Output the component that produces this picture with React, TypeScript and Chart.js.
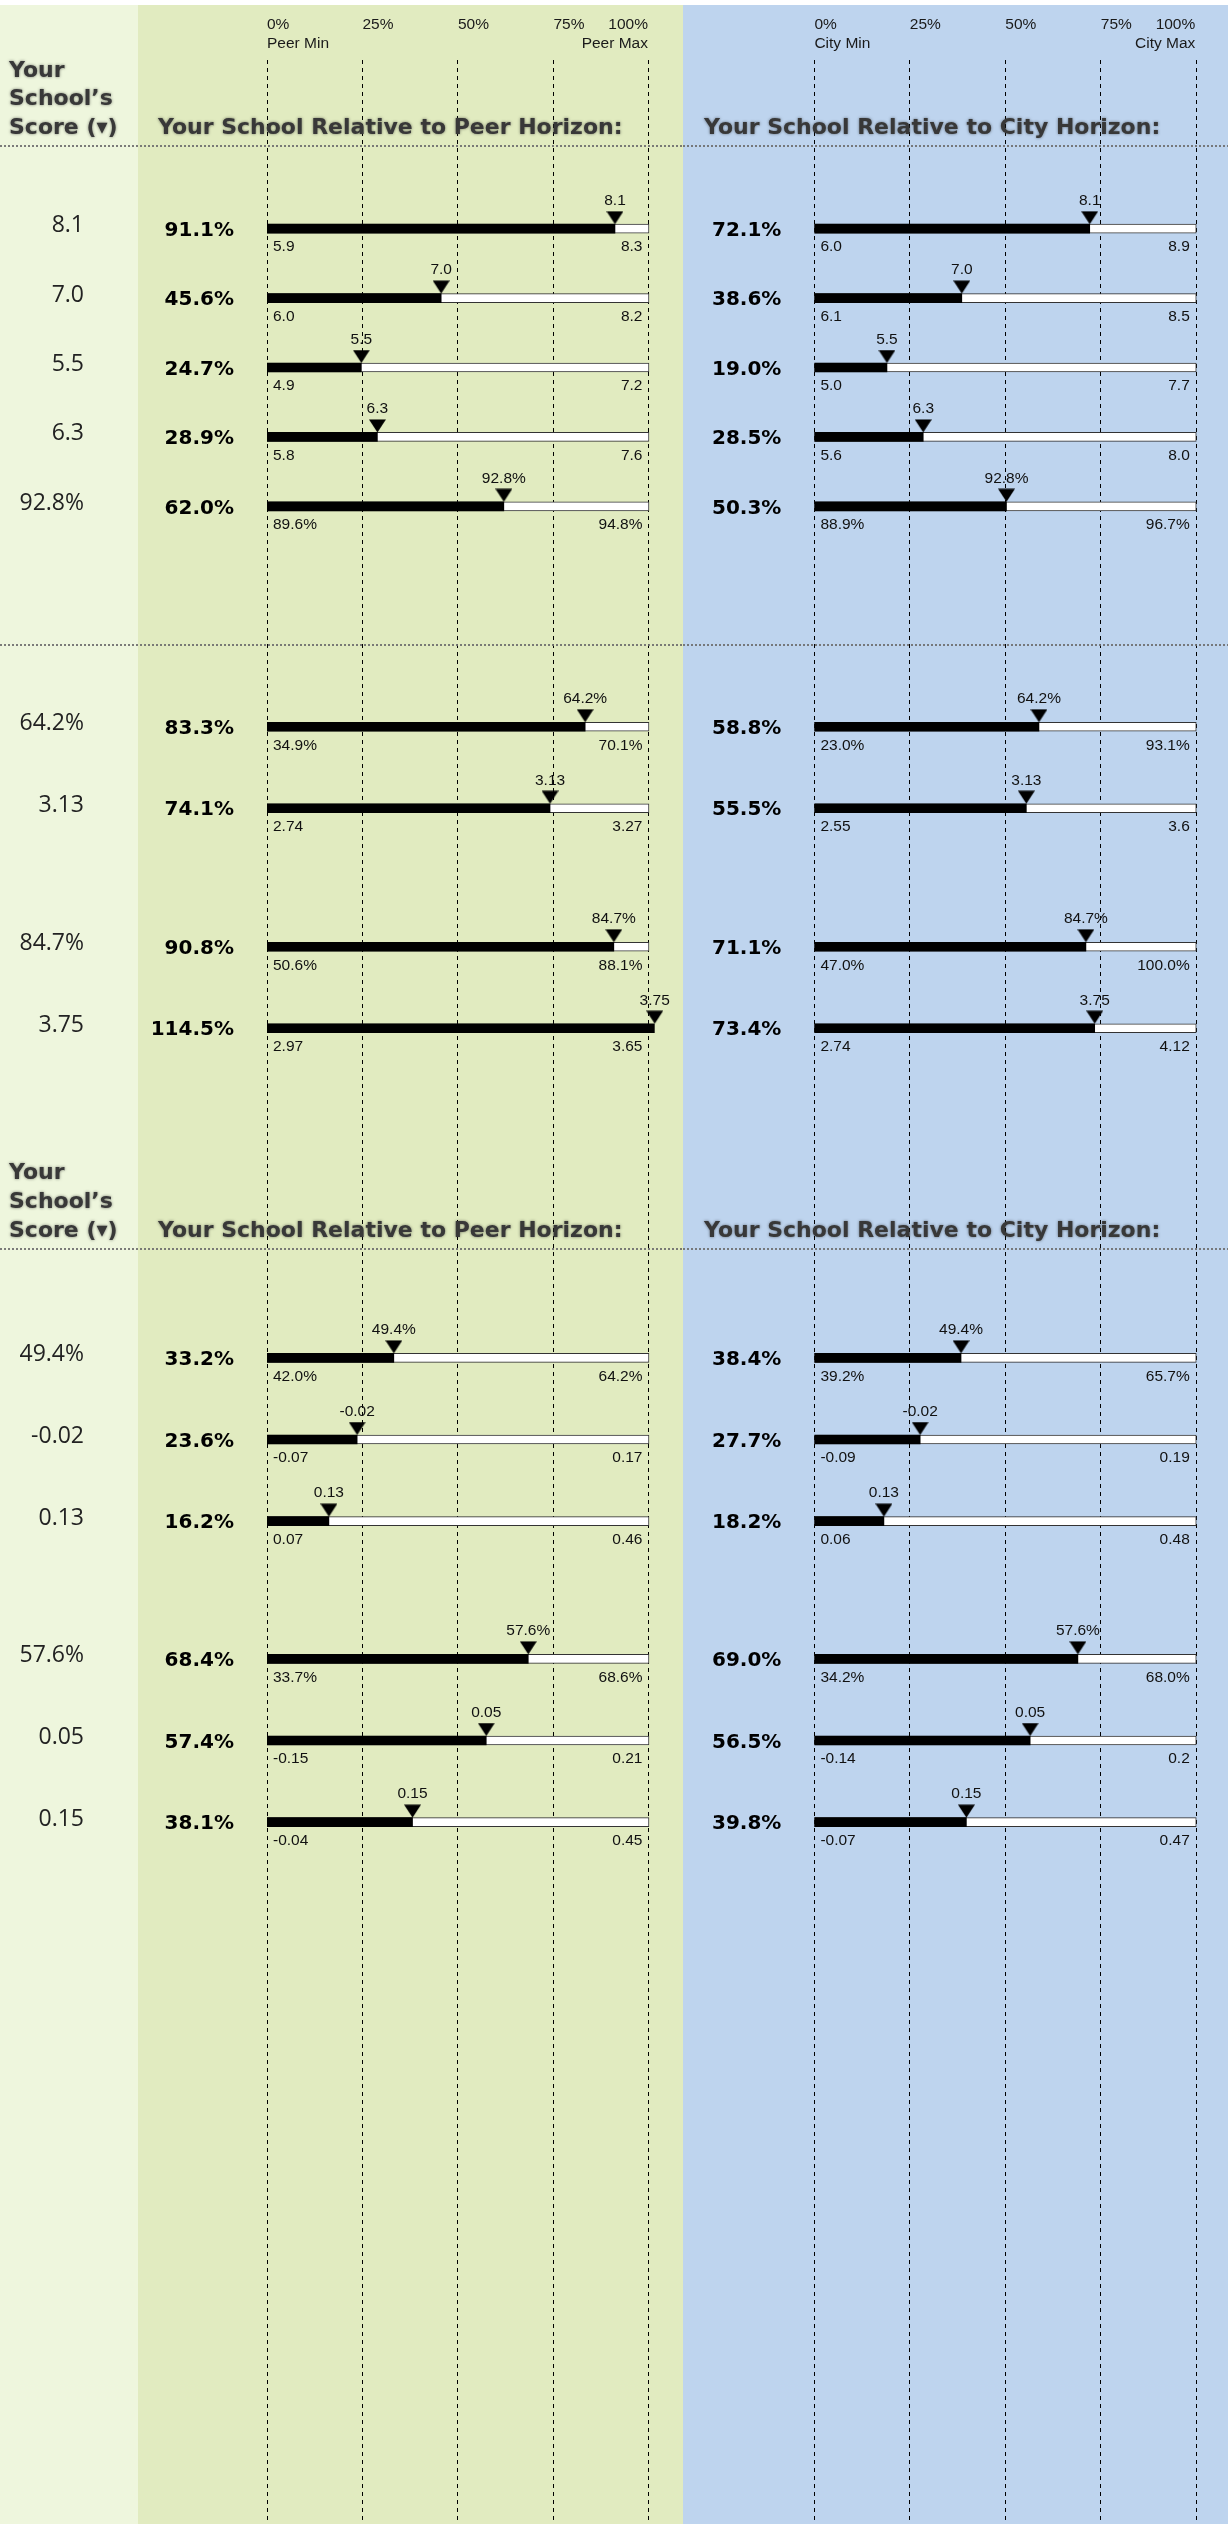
import React, { useEffect, useRef } from 'react';
import { Chart, registerables } from 'chart.js';

Chart.register(...registerables);

// ---------------- data ----------------
const SCORES = ['8.1', '7.0', '5.5', '6.3', '92.8%', '64.2%', '3.13', '84.7%', '3.75', '49.4%', '-0.02', '0.13', '57.6%', '0.05', '0.15'];
const PEER_PCT = [91.1, 45.6, 24.7, 28.9, 62.0, 83.3, 74.1, 90.8, 114.5, 33.2, 23.6, 16.2, 68.4, 57.4, 38.1];
const PEER_MIN = ['5.9', '6.0', '4.9', '5.8', '89.6%', '34.9%', '2.74', '50.6%', '2.97', '42.0%', '-0.07', '0.07', '33.7%', '-0.15', '-0.04'];
const PEER_MAX = ['8.3', '8.2', '7.2', '7.6', '94.8%', '70.1%', '3.27', '88.1%', '3.65', '64.2%', '0.17', '0.46', '68.6%', '0.21', '0.45'];
const CITY_PCT = [72.1, 38.6, 19.0, 28.5, 50.3, 58.8, 55.5, 71.1, 73.4, 38.4, 27.7, 18.2, 69.0, 56.5, 39.8];
const CITY_MIN = ['6.0', '6.1', '5.0', '5.6', '88.9%', '23.0%', '2.55', '47.0%', '2.74', '39.2%', '-0.09', '0.06', '34.2%', '-0.14', '-0.07'];
const CITY_MAX = ['8.9', '8.5', '7.7', '8.0', '96.7%', '93.1%', '3.6', '100.0%', '4.12', '65.7%', '0.19', '0.48', '68.0%', '0.2', '0.47'];
const RANGE_FULL = 100; // min..max span, in percent of the horizon
const AXIS_TICKS = [0, 25, 50, 75, 100];
const AXIS_TICK_LABELS = ['0%', '25%', '50%', '75%', '100%'];
const GROUP_SIZES = [5, 2, 2, 3, 3];
const AXIS_MAX = 101.5;

// ---------------- layout ----------------
const PAGE_W = 1228;
const PAGE_H = 2524;
const LEFT_COL_W = 138;
const SPLIT_X = 683;
const BG_TOP = 5;
const GRID_TOP = 60;
const GROUP_BOXES = [
  { top: 193.6, rowH: 69.35 },
  { top: 686.25, rowH: 81.5 },
  { top: 905.75, rowH: 81.5 },
  { top: 1316.75, rowH: 81.5 },
  { top: 1617.75, rowH: 81.5 },
];
const GROUP_PAD = 34;
const SEPARATORS_Y = [146, 645, 1249];
const HEADER_BLOCKS = [
  { lines: [71, 99.5, 128], title: 128 },
  { lines: [1173, 1202, 1231], title: 1231 },
];

const PANELS = [
  {
    key: 'peer', left: 0, width: SPLIT_X, padL: 267, padR: 28.3,
    pct: PEER_PCT, min: PEER_MIN, max: PEER_MAX,
    title: 'Your School Relative to Peer Horizon:', titleX: 158,
    minName: 'Peer Min', maxName: 'Peer Max', showScore: true,
  },
  {
    key: 'city', left: SPLIT_X, width: PAGE_W - SPLIT_X, padL: 131.4, padR: 26,
    pct: CITY_PCT, min: CITY_MIN, max: CITY_MAX,
    title: 'Your School Relative to City Horizon:', titleX: 21,
    minName: 'City Min', maxName: 'City Max', showScore: false,
  },
];

const SMALL_FONT = '15.5px "Liberation Sans", Arial, sans-serif';
const BOLD_PCT_FONT = 'bold 20px "DejaVu Sans", Verdana, sans-serif';
const SCORE_FONT = '23px "Open Sans", "Noto Sans", sans-serif';
const HEAD_FONT = 'bold 22px "DejaVu Sans", Verdana, sans-serif';

function makeTriangle(): HTMLCanvasElement {
  const c = document.createElement('canvas');
  c.width = 17;
  c.height = 36;
  const g = c.getContext('2d')!;
  g.fillStyle = '#000';
  g.beginPath();
  g.moveTo(0, 0.5);
  g.lineTo(17, 0.5);
  g.lineTo(8.5, 13.5);
  g.closePath();
  g.fill();
  return c;
}

function drawHeadText(ctx: CanvasRenderingContext2D, text: string, x: number, y: number) {
  ctx.save();
  ctx.font = HEAD_FONT;
  ctx.fillStyle = '#383838';
  ctx.textAlign = 'left';
  ctx.textBaseline = 'middle';
  ctx.shadowColor = 'rgba(0,0,0,0.5)';
  ctx.shadowBlur = 3;
  ctx.fillText(text, x, y);
  ctx.restore();
}

export default function App() {
  const bgRefs = useRef<(HTMLCanvasElement | null)[]>([]);
  const grpRefs = useRef<(HTMLCanvasElement | null)[]>([]);

  useEffect(() => {
    const charts: Chart[] = [];
    const tri = makeTriangle();

    PANELS.forEach((p, pi) => {
      // background / axis chart for the panel
      const bgCanvas = bgRefs.current[pi];
      if (bgCanvas) {
        const bgPlugin = {
          id: 'bgtext' + p.key,
          afterDraw(chart: any) {
            const ctx = chart.ctx as CanvasRenderingContext2D;
            const xs = chart.scales.x;
            ctx.save();
            // separators
            ctx.strokeStyle = 'rgba(110,110,110,0.9)';
            ctx.lineWidth = 2;
            ctx.setLineDash([2, 2]);
            SEPARATORS_Y.forEach((y) => {
              ctx.beginPath();
              ctx.moveTo(0, y);
              ctx.lineTo(chart.width, y);
              ctx.stroke();
            });
            ctx.setLineDash([]);
            // axis labels at the top
            ctx.font = SMALL_FONT;
            ctx.fillStyle = '#1a1a1a';
            ctx.textBaseline = 'middle';
            AXIS_TICKS.forEach((t, i) => {
              const x = xs.getPixelForValue(t);
              const last = i === AXIS_TICKS.length - 1;
              ctx.textAlign = last ? 'right' : 'left';
              ctx.fillText(AXIS_TICK_LABELS[i], last ? x - 1 : x, 25);
            });
            ctx.textAlign = 'left';
            ctx.fillText(p.minName, xs.getPixelForValue(0), 44);
            ctx.textAlign = 'right';
            ctx.fillText(p.maxName, xs.getPixelForValue(100) - 1, 44);
            ctx.restore();
            // headers
            HEADER_BLOCKS.forEach((hb) => {
              if (p.showScore) {
                drawHeadText(ctx, 'Your', 9, hb.lines[0]);
                drawHeadText(ctx, 'School\u2019s', 9, hb.lines[1]);
                drawHeadText(ctx, 'Score (\u25BE)', 9, hb.lines[2]);
              }
              drawHeadText(ctx, p.title, p.titleX, hb.title);
            });
          },
        };
        charts.push(
          new Chart(bgCanvas, {
            type: 'scatter',
            data: { datasets: [{ data: [] }] },
            options: {
              responsive: false,
              animation: false,
              devicePixelRatio: 1,
              layout: { padding: { left: p.padL, right: p.padR, top: GRID_TOP, bottom: 0 } },
              plugins: { legend: { display: false }, tooltip: { enabled: false } },
              scales: {
                x: {
                  type: 'linear',
                  position: 'top',
                  min: 0,
                  max: AXIS_MAX,
                  afterBuildTicks: (s: any) => {
                    s.ticks = AXIS_TICKS.map((v) => ({ value: v }));
                  },
                  ticks: { display: false },
                  grid: { color: '#000', lineWidth: 1, drawTicks: false },
                  border: { display: false, dash: [4, 4] },
                },
                y: { display: false },
              },
            },
            plugins: [bgPlugin],
          } as any)
        );
      }

      // bullet groups
      let start = 0;
      GROUP_SIZES.forEach((n, gi) => {
        const rows = Array.from({ length: n }, (_, k) => start + k);
        start += n;
        const canvas = grpRefs.current[pi * GROUP_SIZES.length + gi];
        if (!canvas) return;
        const labels = rows.map((r) => 'row' + r);
        const textPlugin = {
          id: 'rowtext' + p.key + gi,
          afterDatasetsDraw(chart: any) {
            const ctx = chart.ctx as CanvasRenderingContext2D;
            const xs = chart.scales.x;
            const ys = chart.scales.y;
            ctx.save();
            rows.forEach((r, i) => {
              const yc = ys.getPixelForValue(i);
              const xv = xs.getPixelForValue(Math.min(p.pct[r], AXIS_MAX));
              ctx.fillStyle = '#111';
              ctx.textBaseline = 'middle';
              ctx.font = SMALL_FONT;
              ctx.textAlign = 'center';
              ctx.fillText(SCORES[r], xv, yc - 28);
              ctx.textAlign = 'left';
              ctx.fillText(p.min[r], xs.getPixelForValue(0) + 6, yc + 18.5);
              ctx.textAlign = 'right';
              ctx.fillText(p.max[r], xs.getPixelForValue(100) - 6.5, yc + 18.5);
              ctx.fillStyle = '#000';
              ctx.font = BOLD_PCT_FONT;
              ctx.textAlign = 'right';
              ctx.fillText(p.pct[r].toFixed(1) + '%', xs.getPixelForValue(0) - 33, yc + 2);
              if (p.showScore) {
                ctx.fillStyle = '#222';
                ctx.font = SCORE_FONT;
                ctx.textAlign = 'right';
                ctx.fillText(SCORES[r], 84, yc - 3);
              }
            });
            ctx.restore();
          },
        };
        charts.push(
          new Chart(canvas, {
            type: 'bar',
            data: {
              labels,
              datasets: [
                {
                  type: 'scatter',
                  label: 'marker',
                  data: rows.map((r, i) => ({ x: Math.min(p.pct[r], AXIS_MAX), y: labels[i] })),
                  pointStyle: tri,
                  order: 0,
                  clip: false,
                },
                {
                  label: 'value',
                  data: rows.map((r) => p.pct[r]),
                  backgroundColor: '#000',
                  borderWidth: 0,
                  barThickness: 9,
                  grouped: false,
                  order: 1,
                  clip: 0,
                },
                {
                  label: 'range',
                  data: rows.map(() => RANGE_FULL),
                  backgroundColor: '#fff',
                  borderColor: '#333',
                  borderWidth: 1,
                  borderSkipped: false,
                  barThickness: 9,
                  grouped: false,
                  order: 2,
                  clip: 0,
                },
              ],
            },
            options: {
              indexAxis: 'y',
              responsive: false,
              animation: false,
              devicePixelRatio: 1,
              layout: { padding: { left: p.padL, right: p.padR, top: GROUP_PAD, bottom: GROUP_PAD } },
              plugins: { legend: { display: false }, tooltip: { enabled: false } },
              scales: {
                x: { type: 'linear', min: 0, max: AXIS_MAX, display: false },
                y: { type: 'category', display: false, offset: true },
              },
            },
            plugins: [textPlugin],
          } as any)
        );
      });
    });

    return () => {
      charts.forEach((c) => c.destroy());
    };
  }, []);

  return (
    <div
      style={{
        position: 'absolute',
        left: 0,
        top: 0,
        width: PAGE_W,
        height: PAGE_H,
        overflow: 'hidden',
        background: '#fff',
      }}
    >
      <div style={{ position: 'absolute', left: 0, top: BG_TOP, width: LEFT_COL_W, height: PAGE_H - BG_TOP, background: '#eef6dd' }} />
      <div style={{ position: 'absolute', left: LEFT_COL_W, top: BG_TOP, width: SPLIT_X - LEFT_COL_W, height: PAGE_H - BG_TOP, background: '#e1ebc0' }} />
      <div style={{ position: 'absolute', left: SPLIT_X, top: BG_TOP, width: PAGE_W - SPLIT_X, height: PAGE_H - BG_TOP, background: '#bed4ee' }} />
      {PANELS.map((p, pi) => (
        <canvas
          key={'bg' + p.key}
          ref={(el) => {
            bgRefs.current[pi] = el;
          }}
          width={p.width}
          height={PAGE_H}
          style={{ position: 'absolute', left: p.left, top: 0, width: p.width, height: PAGE_H }}
        />
      ))}
      {PANELS.map((p, pi) =>
        GROUP_SIZES.map((n, gi) => {
          const box = GROUP_BOXES[gi];
          const h = n * box.rowH + 2 * GROUP_PAD;
          return (
            <canvas
              key={'g' + p.key + gi}
              ref={(el) => {
                grpRefs.current[pi * GROUP_SIZES.length + gi] = el;
              }}
              width={p.width}
              height={Math.round(h)}
              style={{
                position: 'absolute',
                left: p.left,
                top: Math.round(box.top - GROUP_PAD),
                width: p.width,
                height: Math.round(h),
              }}
            />
          );
        })
      )}
    </div>
  );
}
